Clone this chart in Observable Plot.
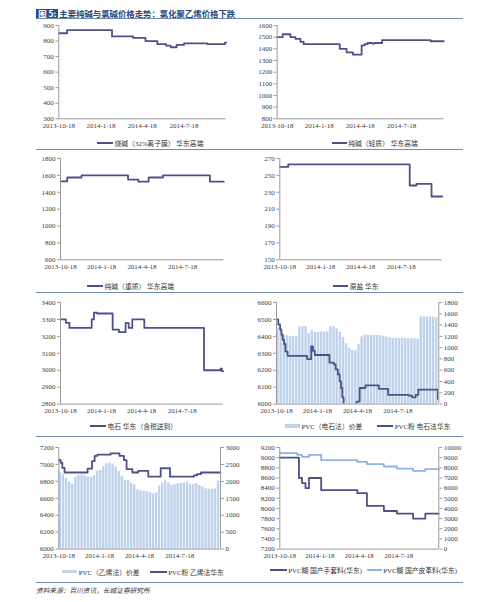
<!DOCTYPE html>
<html><head><meta charset="utf-8">
<script src="https://cdn.jsdelivr.net/npm/d3@7"></script>
<script src="https://cdn.jsdelivr.net/npm/@observablehq/plot@0.6"></script>
<style>
html,body{margin:0;padding:0;background:#fff;}
#root{position:relative;width:500px;height:602px;overflow:hidden;}
#root svg text{font-family:"Liberation Serif","Times New Roman",serif !important;}
.rule{position:absolute;left:36px;width:427px;height:1px;background:#6f8bb0;}
.leg{position:absolute;display:flex;align-items:center;height:10px;white-space:nowrap;font-family:"Liberation Serif","Noto Sans CJK SC",serif;font-size:6.8px;color:#333;}
.sw{display:inline-block;margin-right:1.5px;}
#title{position:absolute;left:36px;top:8.5px;height:9px;display:flex;align-items:center;font-family:"Noto Sans CJK SC",sans-serif;font-weight:bold;font-size:8.4px;white-space:nowrap;}
#title .box{background:#244f8c;color:#fff;height:9px;width:22.3px;display:flex;align-items:center;justify-content:center;margin-right:1px;}
#title .txt{color:#23467e;}
#foot{position:absolute;left:36px;top:585px;font-family:"Noto Sans CJK SC",sans-serif;font-style:italic;font-size:6.7px;color:#333;white-space:nowrap;}
</style></head><body><div id="root">
<div id="title"><span class="box">图 5:</span><span class="txt">主要纯碱与氯碱价格走势：氯化聚乙烯价格下跌</span></div>
<div id="foot">资料来源：百川资讯，长城证券研究所</div>
</div>
<script>
// ---------- shared axis data ----------
const xDomain = ["2013-10-18", "2014-10-18"];
const xTickDates = ["2013-10-18", "2014-01-18", "2014-04-18", "2014-07-18"];
const xTickLabels = ["2013-10-18", "2014-1-18", "2014-4-18", "2014-7-18"];

// ---------- panel 1: 烧碱（32%离子膜）华东高端 ----------
const causticDates = ["2013-10-18","2013-11-05","2014-02-11","2014-03-29","2014-04-25","2014-05-21","2014-06-09","2014-06-19","2014-07-02","2014-07-18","2014-09-07","2014-10-15","2014-10-18"];
const causticValues = [850,870,830,820,800,780,770,760,775,785,780,790,790];

// ---------- panel 2: 纯碱（轻质）华东高端 ----------
const lightSodaDates = ["2013-10-18","2013-10-30","2013-11-16","2013-11-27","2013-12-08","2013-12-15","2014-03-04","2014-03-19","2014-04-02","2014-04-21","2014-04-28","2014-05-04","2014-05-14","2014-05-19","2014-06-05","2014-09-19","2014-10-18"];
const lightSodaValues = [1500,1525,1500,1485,1460,1440,1400,1370,1350,1430,1440,1450,1445,1450,1475,1465,1465];

// ---------- panel 3: 纯碱（重质）华东高端 ----------
const heavySodaDates = ["2013-10-18","2013-11-02","2013-12-04","2014-03-18","2014-04-10","2014-05-03","2014-06-04","2014-09-17","2014-10-18"];
const heavySodaValues = [1530,1575,1600,1550,1525,1575,1600,1525,1525];

// ---------- panel 4: 原盐 华东 ----------
const saltDates = ["2013-10-18","2013-11-06","2014-08-06","2014-08-21","2014-09-24","2014-10-18"];
const saltValues = [260,263,238,240,225,225];

// ---------- panel 5: 电石 华东（含税送到） ----------
const carbideDates = ["2013-10-18","2013-10-30","2013-11-07","2013-12-27","2014-01-01","2014-01-08","2014-02-12","2014-02-26","2014-03-13","2014-03-20","2014-03-28","2014-04-24","2014-09-05","2014-10-12","2014-10-15","2014-10-18"];
const carbideValues = [3300,3280,3250,3300,3340,3335,3240,3225,3280,3250,3300,3250,3000,3010,2995,2995];

// ---------- panel 6: PVC 电石法 ----------
const pvcCarbideDates = ["2013-10-18","2013-10-22","2013-10-26","2013-10-29","2013-11-01","2013-11-04","2013-11-07","2013-11-12","2013-12-26","2014-01-04","2014-01-08","2014-01-12","2014-02-14","2014-02-24","2014-02-28","2014-03-05","2014-03-09","2014-03-12","2014-03-15","2014-03-18","2014-04-16","2014-04-23","2014-05-06","2014-06-05","2014-06-26","2014-08-12","2014-08-19","2014-08-27","2014-09-02","2014-10-16","2014-10-18"];
const pvcCarbideValues = [6500,6470,6440,6410,6380,6355,6310,6285,6265,6340,6315,6290,6245,6235,6205,6175,6135,6095,6040,5900,6015,6095,6110,6090,6055,6050,6040,6055,6085,6030,6030];
const pvcCarbideSpread = [1350,1340,1220,1210,1200,1200,1200,1370,1370,1370,1250,1300,1270,1270,1280,1280,1280,1370,1370,1330,1270,1180,1070,990,955,945,1060,1190,1220,1220,1220,1220,1215,1210,1200,1190,1170,1165,1165,1165,1165,1165,1160,1160,1155,1150,1545,1545,1545,1545,1540,1530];

// ---------- panel 7: PVC 乙烯法 ----------
const pvcEthyleneDates = ["2013-10-18","2013-10-22","2013-10-26","2013-10-31","2013-12-22","2014-01-01","2014-01-07","2014-01-13","2014-02-12","2014-03-04","2014-03-14","2014-03-20","2014-04-02","2014-04-15","2014-05-08","2014-06-05","2014-06-26","2014-08-19","2014-08-26","2014-09-04","2014-10-18"];
const pvcEthyleneValues = [7055,7020,6960,6905,6950,7040,7100,7115,7130,7100,7050,6945,6905,6925,6855,6955,6855,6870,6885,6905,6905];
const pvcEthyleneSpread = [2260,2210,2080,1970,1920,2120,2180,2190,2170,2130,2110,2170,2300,2320,2430,2520,2540,2500,2420,2290,2140,2020,2030,1940,1900,1750,1720,1710,1700,1670,1630,1650,1860,1950,2010,1950,1880,1900,1930,1940,1960,1990,1920,1910,1930,1880,1830,1780,1770,1770,1780,2010];

// ---------- panel 8: PVC糊 ----------
const gloveDates = ["2013-10-18","2013-12-01","2013-12-08","2013-12-16","2013-12-24","2014-01-21","2014-04-14","2014-05-06","2014-06-14","2014-07-14","2014-08-20","2014-09-17","2014-10-18"];
const gloveValues = [9000,8600,8500,8400,8600,8360,8300,8050,7950,7900,7800,7900,7900];
const leatherDates = ["2013-10-18","2013-10-21","2013-11-27","2013-12-08","2013-12-24","2014-01-21","2014-04-14","2014-05-06","2014-06-14","2014-07-14","2014-08-20","2014-09-17","2014-10-18"];
const leatherValues = [9500,9440,9280,9080,9280,8750,8590,8360,8130,7930,7700,7870,7870];

// ---------- legend labels ----------
const legendLabels = {
  p1: ["烧碱（32%离子膜） 华东高端"],
  p2: ["纯碱（轻质） 华东高端"],
  p3: ["纯碱（重质） 华东高端"],
  p4: ["原盐 华东"],
  p5: ["电石 华东（含税送到）"],
  p6: ["PVC（电石法）价差", "PVC粉 电石法华东"],
  p7: ["PVC（乙烯法）价差", "PVC粉 乙烯法华东"],
  p8: ["PVC糊 国产手套料(华东)", "PVC糊 国产皮革料(华东)"]
};

// ---------- drawing ----------
const root = document.getElementById("root");
const LINE = "#4d5186", LIGHT = "#8db3e2", BAR = "#bfd2eb", AXIS = "#9a9a9a", TXT = "#404040";
const toDate = s => new Date(s + "T00:00:00Z");
const xStart = toDate(xDomain[0]), xStop = toDate(xDomain[1]);
const xTicks = xTickDates.map(toDate);
const labelMap = new Map(xTicks.map((d, i) => [+d, xTickLabels[i]]));

const series = (dates, values, map = v => v) => dates.map((d, i) => ({date: toDate(d), v: map(values[i])}));
const weekly = (values, map) => values.map((v, i) => ({x1: d3.utcDay.offset(xStart, 7 * i), x2: d3.utcDay.offset(xStart, 7 * i + 7), v: map(v)}));
const stepLine = (data, color, extra = {}) => Plot.line(data, {x: "date", y: "v", curve: "step-after", stroke: color, strokeWidth: 1.8, ...extra});

function panel({left, pl, pr, pt, pb, yDomain, yStep, right, marks}) {
  const mt = 10, mb = 16, W = 250;
  const H = (pb - pt) + mt + mb;
  const yTicks = d3.range(yDomain[0], yDomain[1] + 1e-6, yStep);
  const all = [
    ...marks,
    Plot.ruleX([xStart], {stroke: AXIS}),
    Plot.ruleY([yDomain[0]], {stroke: AXIS}),
    Plot.axisY({ticks: yTicks, anchor: "left", tickSize: 3, tickPadding: 2, stroke: AXIS, fill: TXT, fontSize: 7, label: null, tickFormat: d => String(Math.round(d))}),
    Plot.axisX({ticks: xTicks, tickFormat: d => labelMap.get(+d), tickSize: 0, tickPadding: 4, fill: TXT, fontSize: 7, label: null})
  ];
  if (right) {
    const [r0, r1] = right.domain;
    const toLeft = v => yDomain[0] + (v - r0) / (r1 - r0) * (yDomain[1] - yDomain[0]);
    const fromLeft = y => r0 + (y - yDomain[0]) / (yDomain[1] - yDomain[0]) * (r1 - r0);
    const rTicks = d3.range(r0, r1 + 1e-6, right.step);
    all.push(Plot.ruleX([xStop], {stroke: AXIS}));
    all.push(Plot.axisY({ticks: rTicks.map(toLeft), anchor: "right", tickSize: 3, tickPadding: 2, stroke: AXIS, fill: TXT, fontSize: 7, label: null, tickFormat: d => String(Math.round(fromLeft(d)))}));
  }
  const svg = Plot.plot({
    width: W, height: H,
    marginLeft: pl - left, marginRight: left + W - pr, marginTop: mt, marginBottom: mb,
    x: {type: "utc", domain: [xStart, xStop], axis: null},
    y: {domain: yDomain, axis: null},
    style: {fontFamily: '"Liberation Serif", serif', fontSize: "7px", color: TXT, background: "transparent", overflow: "visible"},
    marks: all
  });
  svg.style.position = "absolute";
  svg.style.left = left + "px";
  svg.style.top = (pt - mt) + "px";
  root.appendChild(svg);
}

function legend(items) {
  items.forEach(it => {
    const div = document.createElement("div");
    div.className = "leg";
    div.style.left = it.x + "px";
    div.style.top = (it.y - 5) + "px";
    const sw = document.createElement("span");
    sw.className = "sw";
    sw.style.width = it.w + "px";
    sw.style.height = (it.kind === "bar" ? 3.5 : 2) + "px";
    sw.style.background = it.color;
    div.appendChild(sw);
    const t = document.createElement("span");
    t.textContent = it.text;
    div.appendChild(t);
    root.appendChild(div);
  });
}

function hrule(y) {
  const d = document.createElement("div");
  d.className = "rule";
  d.style.top = y + "px";
  root.appendChild(d);
}
[18, 149, 291.5, 436, 581.5].forEach(hrule);

// panel 1
panel({left: 0, pl: 58.3, pr: 225.7, pt: 25, pb: 118.3, yDomain: [300, 900], yStep: 100,
  marks: [stepLine(series(causticDates, causticValues), LINE)]});
// panel 2
panel({left: 250, pl: 276.7, pr: 443.3, pt: 25, pb: 118.3, yDomain: [800, 1600], yStep: 100,
  marks: [stepLine(series(lightSodaDates, lightSodaValues), LINE)]});
// panel 3
panel({left: 0, pl: 60, pr: 223.3, pt: 157.7, pb: 259, yDomain: [600, 1800], yStep: 200,
  marks: [stepLine(series(heavySodaDates, heavySodaValues), LINE)]});
// panel 4
panel({left: 250, pl: 279.3, pr: 441.7, pt: 157.7, pb: 259, yDomain: [150, 270], yStep: 20,
  marks: [stepLine(series(saltDates, saltValues), LINE)]});
// panel 5
panel({left: 0, pl: 60, pr: 222.7, pt: 301.7, pb: 403.3, yDomain: [2800, 3400], yStep: 100,
  marks: [stepLine(series(carbideDates, carbideValues), LINE)]});
// panel 6
{
  const map = v => 6000 + v / 1800 * 600;
  panel({left: 250, pl: 276, pr: 438.3, pt: 301.7, pb: 403.3, yDomain: [6000, 6600], yStep: 100,
    right: {domain: [0, 1800], step: 200},
    marks: [
      Plot.rect(weekly(pvcCarbideSpread, map), {x1: "x1", x2: "x2", y1: 6000, y2: "v", fill: BAR, insetLeft: 0.35, insetRight: 0.35}),
      stepLine(series(pvcCarbideDates, pvcCarbideValues), LINE, {clip: true})
    ]});
}
// panel 7
{
  const map = v => 6000 + v / 3000 * 1200;
  panel({left: 0, pl: 58.3, pr: 220, pt: 446.7, pb: 548.3, yDomain: [6000, 7200], yStep: 200,
    right: {domain: [0, 3000], step: 500},
    marks: [
      Plot.rect(weekly(pvcEthyleneSpread, map), {x1: "x1", x2: "x2", y1: 6000, y2: "v", fill: BAR, insetLeft: 0.35, insetRight: 0.35}),
      stepLine(series(pvcEthyleneDates, pvcEthyleneValues), LINE)
    ]});
}
// panel 8
{
  const map = v => 7200 + v / 10000 * 2000;
  panel({left: 250, pl: 279.3, pr: 438.3, pt: 446.7, pb: 548.3, yDomain: [7200, 9200], yStep: 200,
    right: {domain: [0, 10000], step: 1000},
    marks: [
      stepLine(series(gloveDates, gloveValues), LINE),
      stepLine(series(leatherDates, leatherValues, map), LIGHT)
    ]});
}

legend([
  {x: 97, y: 143.3, w: 16, kind: "line", color: LINE, text: legendLabels.p1[0]},
  {x: 331.7, y: 143.3, w: 15, kind: "line", color: LINE, text: legendLabels.p2[0]},
  {x: 87, y: 285.7, w: 16, kind: "line", color: LINE, text: legendLabels.p3[0]},
  {x: 332.7, y: 285.7, w: 15.6, kind: "line", color: LINE, text: legendLabels.p4[0]},
  {x: 90, y: 426, w: 16, kind: "line", color: LINE, text: legendLabels.p5[0]},
  {x: 285, y: 426, w: 15, kind: "bar", color: BAR, text: legendLabels.p6[0]},
  {x: 376.7, y: 426, w: 16.6, kind: "line", color: LINE, text: legendLabels.p6[1]},
  {x: 61.7, y: 571.7, w: 15.6, kind: "bar", color: BAR, text: legendLabels.p7[0]},
  {x: 150, y: 571.7, w: 16.7, kind: "line", color: LINE, text: legendLabels.p7[1]},
  {x: 270, y: 570, w: 16.7, kind: "line", color: LINE, text: legendLabels.p8[0]},
  {x: 366.7, y: 570, w: 15, kind: "line", color: LIGHT, text: legendLabels.p8[1]}
]);
</script></body></html>
